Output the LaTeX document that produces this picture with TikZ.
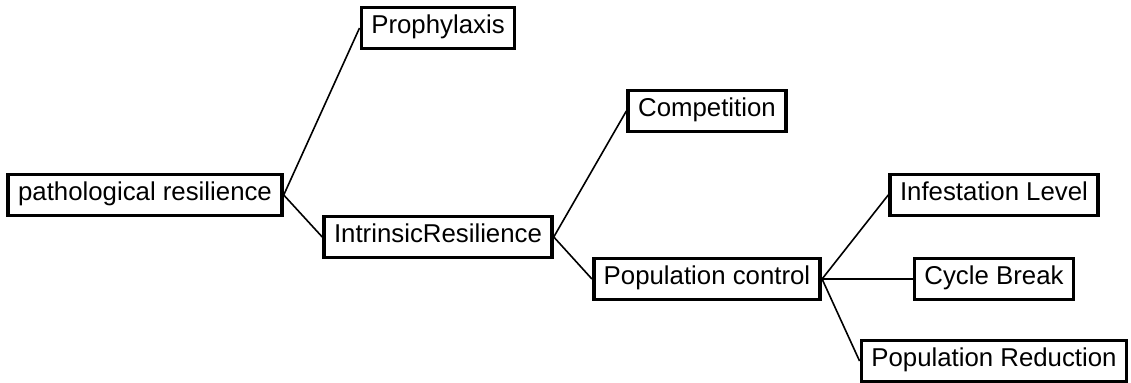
\documentclass[tikz,border=0pt]{standalone}
\usepackage{fontspec}
\setmainfont{Liberation Sans}
\usepackage{tikz}
\usetikzlibrary{arrows.meta}

\begin{document}
\begin{tikzpicture}[x=0.5pt,y=-0.5pt,
		box/.style={shape=rectangle,draw=black,line width=1.8pt,inner xsep=5pt,inner ysep=0pt,minimum height=20.5pt,text height=0.72em,text depth=0.2em,font=\fontsize{12.9}{15}\selectfont},
		link/.style={-,line width=0.8pt}]
		\useasboundingbox (0,0) rectangle (1131,383);
		\node[box] (path) at (145, 195)     {pathological resilience};
		\node[box] (proph) at (438, 28)     {Prophylaxis};
		\node[box] (intr) at (438, 237)     {IntrinsicResilience};
		\node[box] (comp) at (707, 111)     {Competition};
		\node[box] (popc) at (707, 279)     {Population control};
		\node[box] (inf) at (994, 195)     {Infestation Level};
		\node[box] (cyc) at (994, 279)     {Cycle Break};
		\node[box] (popr) at (994, 361)     {Population Reduction};
		
		
		\path[link] (path.east) edge (proph.west);
		\path[link] (path.east) edge (intr.west);
		\path[link] (intr.east) edge (comp.west);
		\path[link] (intr.east) edge (popc.west);
		\path[link] (popc.east) edge (inf.west);
		\path[link] (popc.east) edge (cyc.west);
		\path[link] (popc.east) edge (popr.west);
		\end{tikzpicture}
\end{document}
